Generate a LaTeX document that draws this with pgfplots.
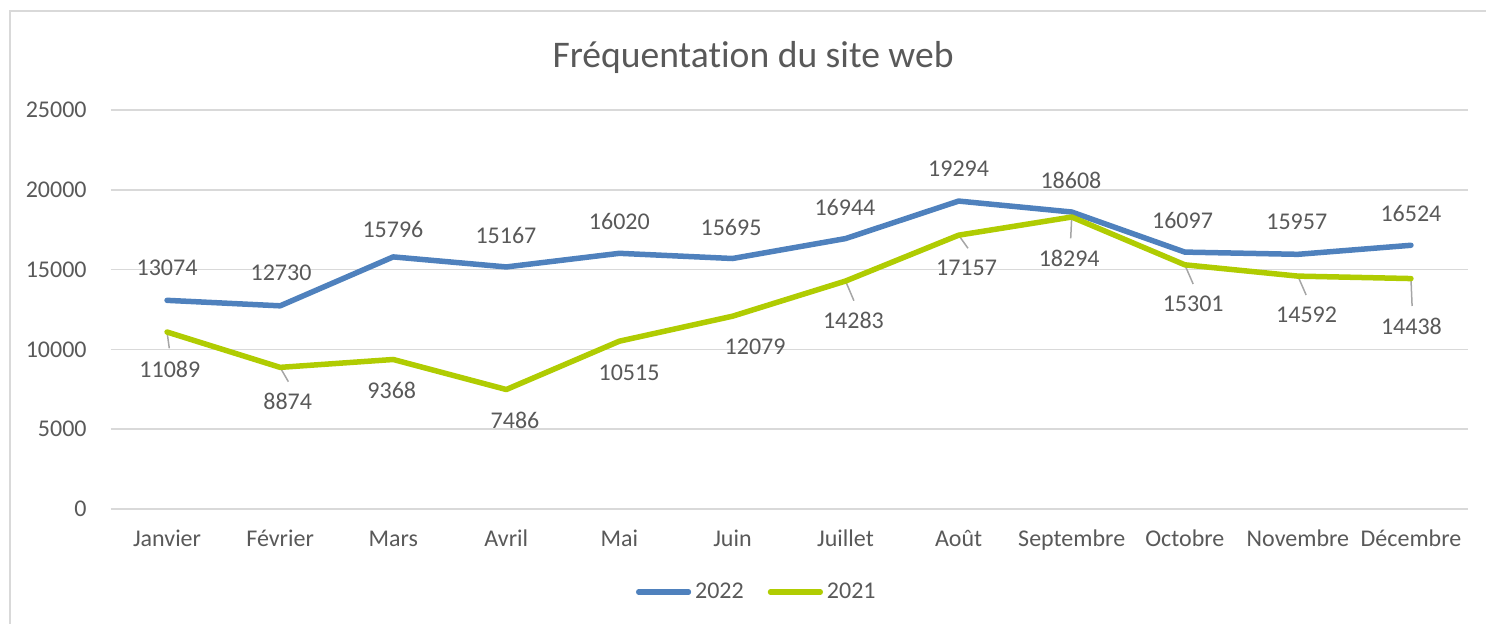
\documentclass[border=0pt]{standalone}
\usepackage{fontspec}
\setmainfont{Carlito}[Ligatures=NoCommon]
\usepackage{pgfplots}
\usepackage{pgfplotstable}
\pgfplotsset{compat=1.18}
\definecolor{txtgray}{RGB}{89,89,89}
\definecolor{gridgray}{RGB}{217,217,217}
\definecolor{blue22}{RGB}{79,129,189}
\definecolor{green21}{RGB}{176,204,2}
\definecolor{leadgray}{RGB}{166,166,166}

\pgfplotstableread{
x y
0 13074
1 12730
2 15796
3 15167
4 16020
5 15695
6 16944
7 19294
8 18608
9 16097
10 15957
11 16524
}\dataA
\pgfplotstableread{
x y
0 11089
1 8874
2 9368
3 7486
4 10515
5 12079
6 14283
7 17157
8 18294
9 15301
10 14592
11 14438
}\dataB
\pgfplotstableread{
x y l
0 15100 13074
1.008 14787 12730
1.998 17544 15796
2.997 17168 15167
4.0 18002 16020
4.987 17669 15695
5.995 18922 16944
7.0 21347 19294
7.993 20614 18608
8.98 18108 16097
9.99 18001 15957
11.0 18527 16524
}\labA
\pgfplotstableread{
x y l
0.025 8772 11089
1.067 6723 8874
1.987 7456 9368
3.077 5576 7486
4.085 8540 10515
5.20 10169 12079
6.07 11798 14283
7.07 15081 17157
7.978 15708 18294
9.074 12888 15301
10.077 12155 14592
11.004 11466 14438
}\labB

\begin{document}
\begin{tikzpicture}
\useasboundingbox (0,0) rectangle (743bp,312bp);
\draw[gridgray, line width=1bp] (5bp,-2bp) -- (5bp,306.5bp) -- (745bp,306.5bp);
\begin{axis}[
  at={(55.25bp,57.5bp)}, anchor=south west,
  scale only axis, width=678.5bp, height=199.5bp,
  xmin=-0.5, xmax=11.5, ymin=0, ymax=25000,
  xtick={0,...,11},
  xticklabels={Janvier,Février,Mars,Avril,Mai,Juin,Juillet,Août,Septembre,Octobre,Novembre,Décembre},
  ytick={0,5000,...,25000},
  scaled y ticks=false,
  /pgf/number format/.cd, 1000 sep={}, fixed, assume math mode=true, /pgfplots/.cd,
  axis line style={draw=none},
  major tick length=0pt,
  ymajorgrids, grid style={gridgray, line width=0.85bp},
  tick label style={font=\fontsize{12bp}{14bp}\selectfont, text=txtgray},
  yticklabel style={anchor=east, inner sep=0pt, xshift=-11.75bp},
  xticklabel style={anchor=base, inner sep=0pt, yshift=-18.5bp},
  title={Fréquentation du site web},
  title style={at={(axis description cs:0.4735,1.138)}, anchor=center, inner sep=0pt, yshift=-7.5pt,
    font=\fontsize{18.8bp}{22bp}\selectfont, text=txtgray},
  unbounded coords=jump,
  legend style={at={(axis description cs:0.477,-0.208)}, anchor=center, draw=none, fill=none,
    legend columns=2, font=\fontsize{12bp}{14bp}\selectfont, text=txtgray,
    /tikz/every even column/.append style={column sep=10bp},
    /tikz/every odd column/.append style={column sep=0bp}},
  legend cell align=left,
  legend image code/.code={\draw[#1, line width=2.6bp, line cap=round] (0bp,0bp) -- (25bp,0bp);},
]
\addplot[leadgray, line width=0.75bp, forget plot] coordinates {
(0,11089) (0.02,10069) (0,nan)
(1,8874) (1.073,7976) (1,nan)
(6,14283) (6.074,13052) (6,nan)
(7,17157) (7.083,16335) (7,nan)
(8,18294) (7.991,16961) (8,nan)
(9,15301) (9.074,14098) (9,nan)
(10,14592) (10.073,13409) (10,nan)
(11,14438) (11.01,12719)
};
\addplot[blue22, line width=2.75bp, line cap=round, line join=round] table[x=x,y=y] {\dataA};
\addlegendentry{2022}
\addplot[green21, line width=2.75bp, line cap=round, line join=round] table[x=x,y=y] {\dataB};
\addlegendentry{2021}
\addplot[draw=none, forget plot, nodes near coords, point meta=explicit symbolic,
  nodes near coords align=center,
  every node near coord/.append style={anchor=center, inner sep=0pt, font=\fontsize{12bp}{14bp}\selectfont, text=txtgray}]
  table[x=x,y=y,meta=l] {\labA};
\addplot[draw=none, forget plot, nodes near coords, point meta=explicit symbolic,
  nodes near coords align=center,
  every node near coord/.append style={anchor=center, inner sep=0pt, font=\fontsize{12bp}{14bp}\selectfont, text=txtgray}]
  table[x=x,y=y,meta=l] {\labB};
\end{axis}
\end{tikzpicture}
\end{document}
